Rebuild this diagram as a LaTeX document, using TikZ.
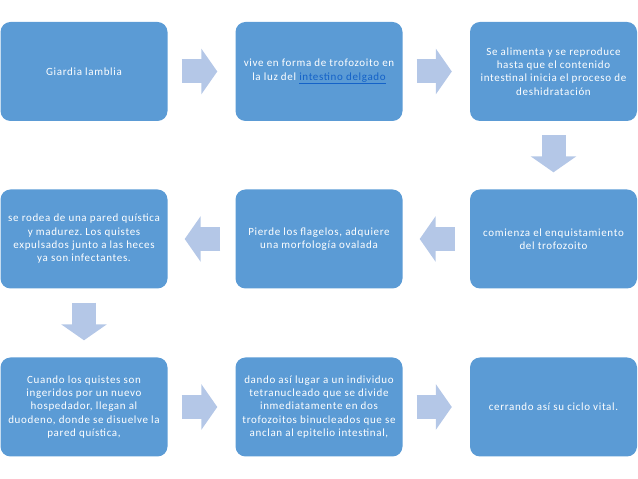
\documentclass[tikz,border=0pt]{standalone}
\usepackage{fontspec}
\setmainfont{Carlito}[LetterSpace=6]
\frenchspacing
\usetikzlibrary{arrows.meta,calc}
\definecolor{boxblue}{HTML}{5B9BD5}
\definecolor{arrowblue}{HTML}{B4C7E7}
\definecolor{linkblue}{HTML}{1462C8}
\tikzset{
  stepbox/.style={fill=boxblue, draw=none, rounded corners=10pt, minimum width=167pt, minimum height=99pt,
    text=white, align=center, inner sep=2pt, font=\fontsize{11}{13.3}\selectfont},
  flowarrow/.style={draw=arrowblue, line width=24pt, -{Triangle[width=45pt,length=16pt,fill=arrowblue]}, arrowblue}
}
\begin{document}
\begin{tikzpicture}[x=1pt,y=1pt]
\useasboundingbox (0,0) rectangle (638,479);
% row 1
\node[stepbox] (b1) at (84,407.5) {Giardia lamblia};
\node[stepbox] (b2) at (319,407.5) {vive en forma de trofozoito en\\la luz del {\color{linkblue}\underline{intestino delgado}}};
\node[stepbox] (b3) at (553.5,407.5) {Se alimenta y se reproduce\\hasta que el contenido\\intestinal inicia el proceso de\\deshidratación};
% row 2
\node[stepbox] (b4) at (84,240) {se rodea de una pared quística\\y madurez. Los quistes\\expulsados junto a las heces\\ya son infectantes.};
\node[stepbox] (b5) at (319,240) {Pierde los flagelos, adquiere\\una morfología ovalada};
\node[stepbox] (b6) at (553.5,240) {comienza el enquistamiento\\del trofozoito};
% row 3
\node[stepbox] (b7) at (84,72) {Cuando los quistes son\\ingeridos por un nuevo\\hospedador, llegan al\\duodeno, donde se disuelve la\\pared quística,};
\node[stepbox] (b8) at (319,72) {dando así lugar a un individuo\\tetranucleado que se divide\\inmediatamente en dos\\trofozoitos binucleados que se\\anclan al epitelio intestinal,};
\node[stepbox] (b9) at (553.5,72) {cerrando así su ciclo vital.};
% connectors
\draw[flowarrow] ($(b1.east)+(14,0)$) -- ($(b2.west)+(-18,0)$);
\draw[flowarrow] ($(b2.east)+(14,0)$) -- ($(b3.west)+(-18,0)$);
\draw[flowarrow] ($(b3.south)+(0,-14)$) -- ($(b6.north)+(0,17)$);
\draw[flowarrow] ($(b6.west)+(-15,0)$) -- ($(b5.east)+(17,0)$);
\draw[flowarrow] ($(b5.west)+(-15,0)$) -- ($(b4.east)+(17,0)$);
\draw[flowarrow] ($(b4.south)+(0,-14)$) -- ($(b7.north)+(0,17)$);
\draw[flowarrow] ($(b7.east)+(14,0)$) -- ($(b8.west)+(-18,0)$);
\draw[flowarrow] ($(b8.east)+(14,0)$) -- ($(b9.west)+(-18,0)$);
\end{tikzpicture}
\end{document}
